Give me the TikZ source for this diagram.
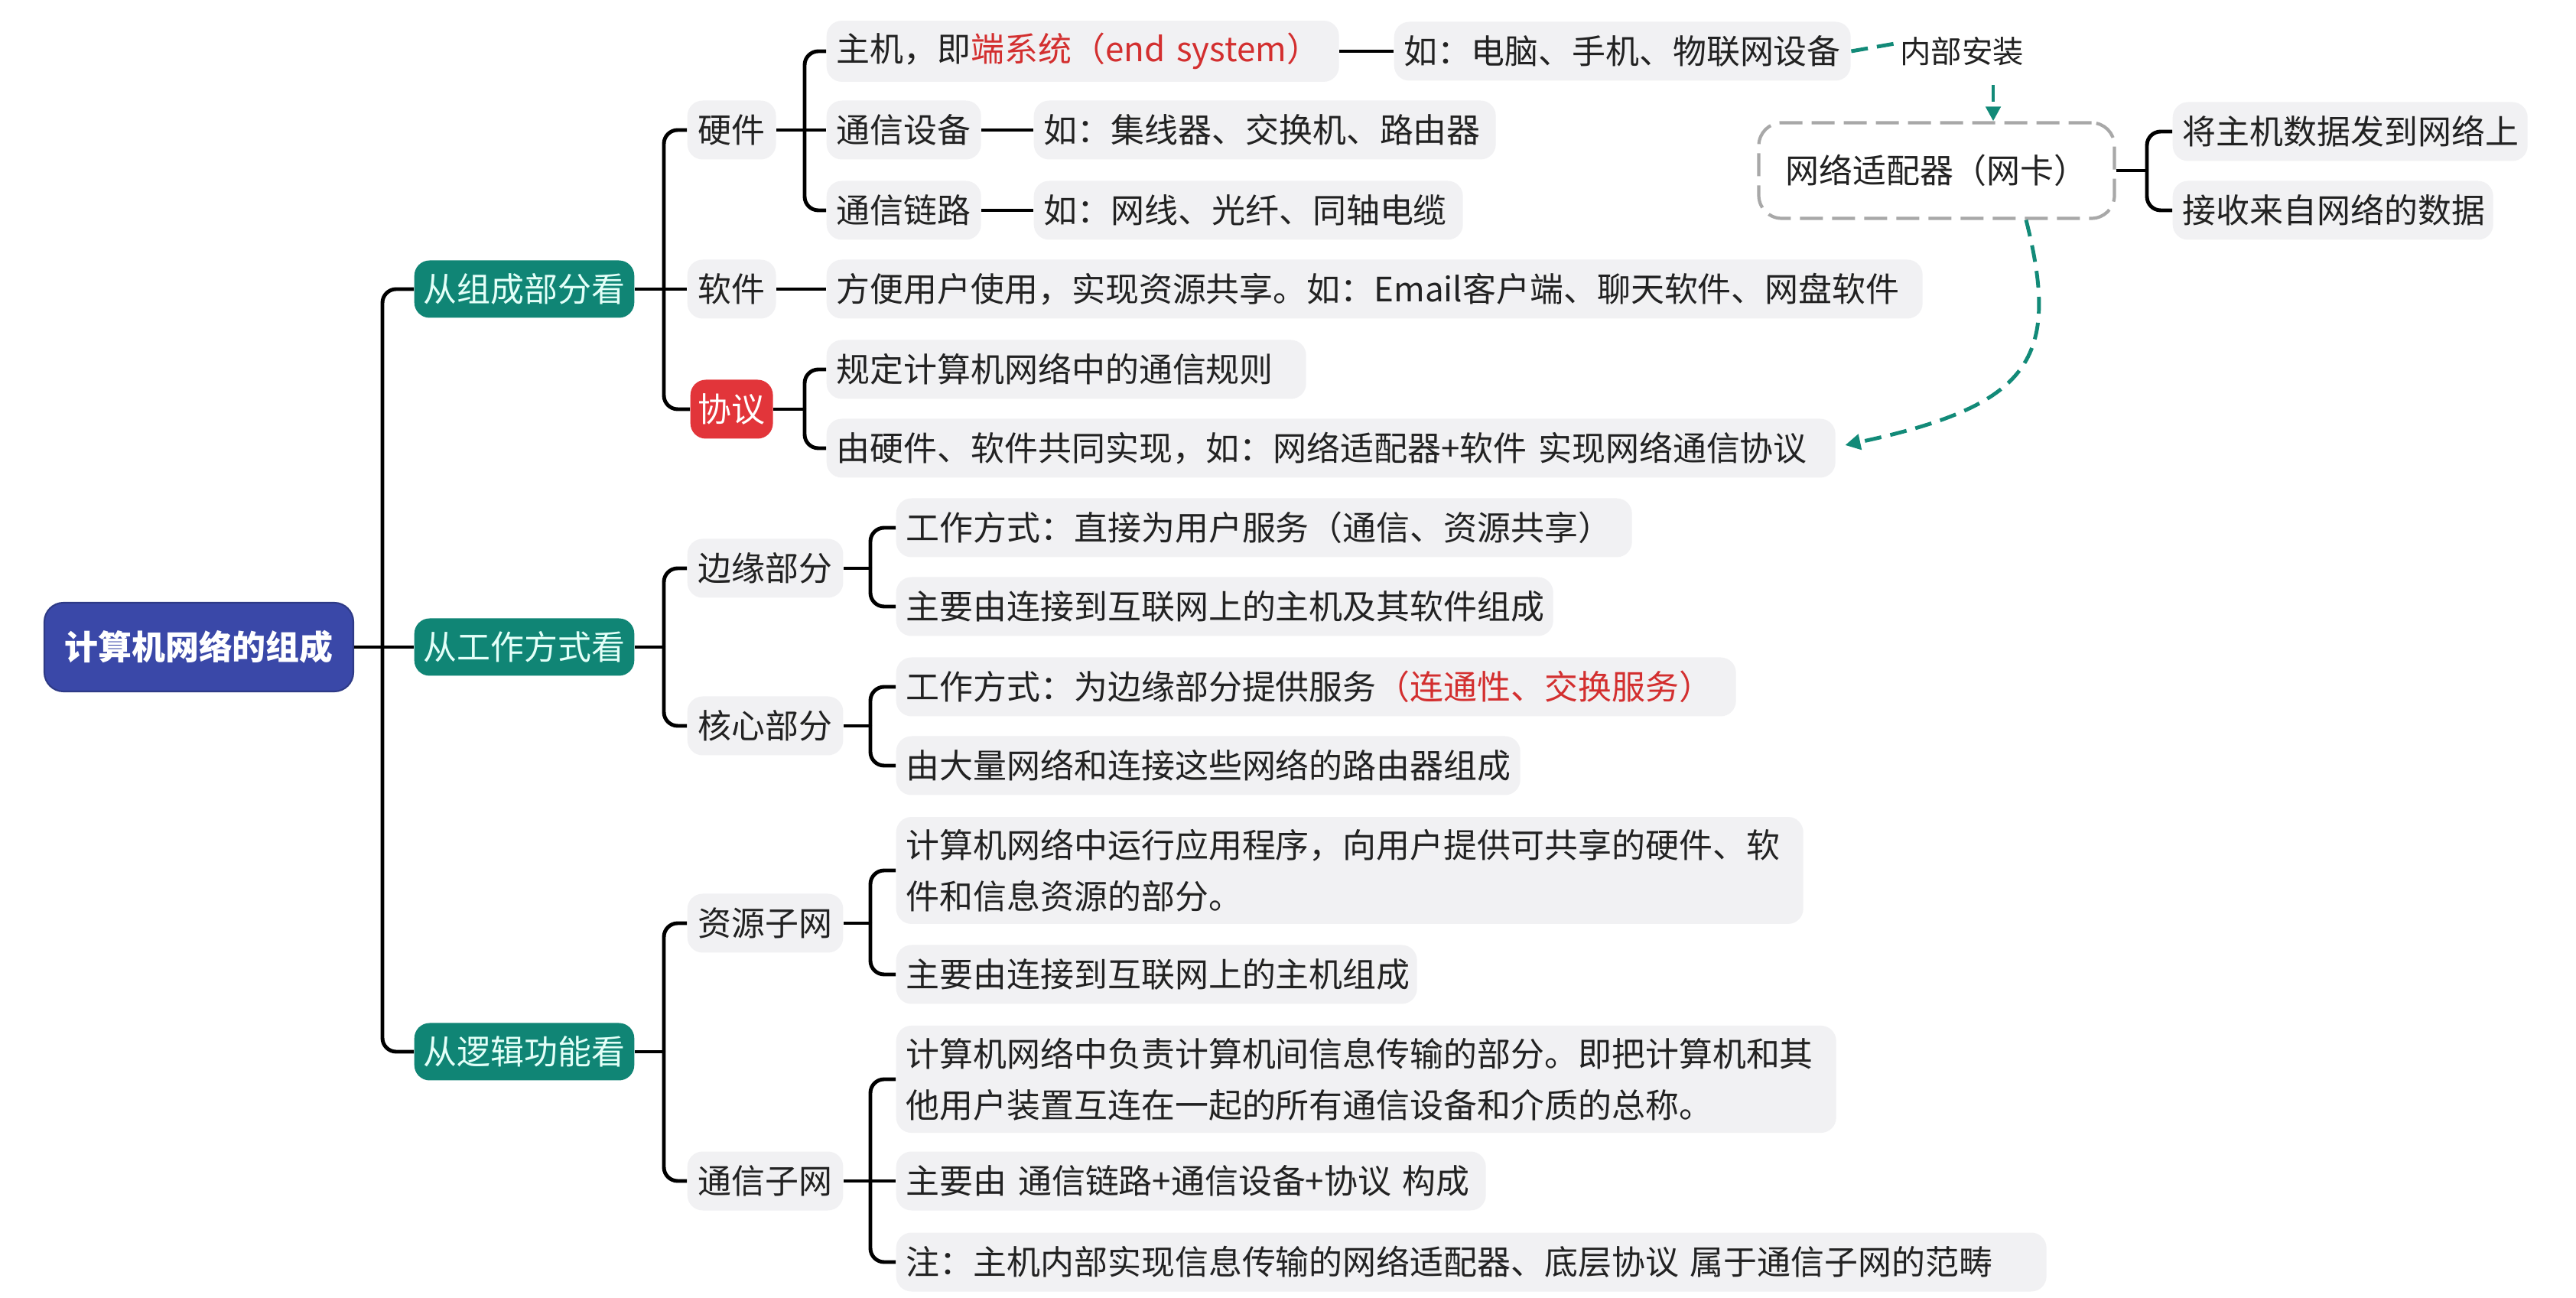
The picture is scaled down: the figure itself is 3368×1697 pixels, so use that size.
\documentclass[tikz,border=0pt]{standalone}
\usepackage{fontspec}
\setmainfont{Noto Sans CJK SC}
\usetikzlibrary{arrows.meta,calc}
\definecolor{rootblue}{HTML}{3A48A8}
\definecolor{lvgreen}{HTML}{108575}
\definecolor{greentxt}{HTML}{E3FFF8}
\definecolor{boxgray}{HTML}{F1F1F3}
\definecolor{txtc}{HTML}{222222}
\definecolor{hlred}{HTML}{D32F2F}
\definecolor{protored}{HTML}{E2353A}
\definecolor{dgreen}{HTML}{128A78}
\definecolor{dashgray}{HTML}{A8A8A8}
\begin{document}
\begin{tikzpicture}[x=0.1mm,y=-0.1mm,
  every node/.style={font=\fontsize{12.5}{19}\selectfont, text=txtc},
  rootbox/.style={fill=rootblue, draw=rootblue!80!black, line width=0.6pt, rounded corners=2.5mm, text=white, font=\fontsize{12.5}{19}\selectfont\bfseries, minimum width=40.4mm, minimum height=11.6mm, inner sep=0pt},
  lonebox/.style={fill=lvgreen, rounded corners=2mm, text=greentxt, minimum height=7.5mm, inner xsep=1.2mm, inner ysep=0pt, anchor=west},
  ltwobox/.style={fill=boxgray, rounded corners=2mm, minimum height=7.7mm, inner xsep=1.4mm, inner ysep=0pt, anchor=west},
  protobox/.style={fill=protored, rounded corners=2mm, text=white, minimum height=7.7mm, inner xsep=1mm, inner ysep=0pt, anchor=west},
  leafbox/.style={fill=boxgray, rounded corners=2mm, minimum height=7.7mm, inner xsep=1.3mm, inner ysep=1.6mm, anchor=west, align=left, text width=#1},
  adbox/.style={fill=white, draw=dashgray, line width=1.2pt, dash pattern=on 3mm off 1.2mm, rounded corners=3mm, minimum width=46.5mm, minimum height=12.5mm},
  conn/.style={line width=1.4pt, black},
  branch/.style={conn, rounded corners=1.8mm},
  gdash/.style={dgreen, line width=1.4pt, dash pattern=on 2.2mm off 1.2mm},
]
\fill[white] (0,0) rectangle (3368,1697);
\useasboundingbox (0,0) rectangle (3368,1697);

% root and level 1
\node[rootbox] (root) at (260,846) {计算机网络的组成};
\node[lonebox] (la) at (541,378) {从组成部分看};
\node[lonebox] (lb) at (541,846) {从工作方式看};
\node[lonebox] (lc) at (541,1375) {从逻辑功能看};

% level 2
\node[ltwobox] (hw) at (898,170) {硬件};
\node[ltwobox] (sw) at (898,378) {软件};
\node[protobox] (xy) at (902,535) {协议};
\node[ltwobox] (by) at (898,743) {边缘部分};
\node[ltwobox] (hx) at (898,949) {核心部分};
\node[ltwobox] (zy) at (898,1207) {资源子网};
\node[ltwobox] (tx) at (898,1544) {通信子网};

% level 3
\node[leafbox=64.4mm] (zj) at (1080,67) {主机，即{\color{hlred}端系统（end~system）}};
\node[leafbox=17.6mm] (sb) at (1080,170) {通信设备};
\node[leafbox=17.6mm] (ll) at (1080,275) {通信链路};
\node[leafbox=140.7mm] (fb) at (1080,378) {方便用户使用，实现资源共享。如：Email客户端、聊天软件、网盘软件};
\node[leafbox=60.1mm] (gd) at (1080,483) {规定计算机网络中的通信规则};
\node[leafbox=129.3mm] (yy) at (1080,586) {由硬件、软件共同实现，如：网络适配器+软件~实现网络通信协议};
\node[leafbox=93.6mm] (bya) at (1171,690) {工作方式：直接为用户服务（通信、资源共享）};
\node[leafbox=83.3mm] (byb) at (1171,793) {主要由连接到互联网上的主机及其软件组成};
\node[leafbox=107.2mm] (hxa) at (1171,898) {工作方式：为边缘部分提供服务{\color{hlred}（连通性、交换服务）}};
\node[leafbox=79.0mm] (hxb) at (1171,1001) {由大量网络和连接这些网络的路由器组成};
\node[leafbox=116.0mm] (zya) at (1171,1138) {计算机网络中运行应用程序，向用户提供可共享的硬件、软\\件和信息资源的部分。};
\node[leafbox=65.5mm] (zyb) at (1171,1274) {主要由连接到互联网上的主机组成};
\node[leafbox=120.3mm] (txa) at (1171,1411) {计算机网络中负责计算机间信息传输的部分。即把计算机和其\\他用户装置互连在一起的所有通信设备和介质的总称。};
\node[leafbox=74.5mm] (txb) at (1171,1544) {主要由~通信链路+通信设备+协议~构成};
\node[leafbox=147.8mm] (txc) at (1171,1650) {注：主机内部实现信息传输的网络适配器、底层协议~属于通信子网的范畴};

% level 4
\node[leafbox=57.1mm] (zjd) at (1822,67) {如：电脑、手机、物联网设备};
\node[leafbox=57.8mm] (sbd) at (1351,170) {如：集线器、交换机、路由器};
\node[leafbox=53.5mm] (lld) at (1351,275) {如：网线、光纤、同轴电缆};

% adapter
\node[font=\fontsize{11.5}{14}\selectfont, inner sep=0pt] (nb) at (2565,67) {内部安装};
\node[adbox] (ad) at (2532,223) {网络适配器（网卡）};
\node[leafbox=43.8mm] (ada) at (2840,172) {将主机数据发到网络上};
\node[leafbox=39.3mm] (adb) at (2840,275) {接收来自网络的数据};

% junctions
\coordinate (j0) at (500,846);
\coordinate (ja) at (868,378);
\coordinate (jb) at (868,846);
\coordinate (jc) at (868,1375);
\coordinate (jhw) at (1052,170);
\coordinate (jxy) at (1052,535);
\coordinate (jby) at (1138,743);
\coordinate (jhx) at (1138,949);
\coordinate (jzy) at (1138,1207);
\coordinate (jtx) at (1138,1544);
\coordinate (jad) at (2807,223);

% connectors
\draw[conn] (root.east) -- (lb.west);
\draw[branch] (j0) |- (la.west);
\draw[branch] (j0) |- (lc.west);

\draw[conn] (la.east) -- (sw.west);
\draw[branch] (ja) |- (hw.west);
\draw[branch] (ja) |- (xy.west);

\draw[conn] (lb.east) -- (jb);
\draw[branch] (jb) |- (by.west);
\draw[branch] (jb) |- (hx.west);

\draw[conn] (lc.east) -- (jc);
\draw[branch] (jc) |- (zy.west);
\draw[branch] (jc) |- (tx.west);

\draw[conn] (hw.east) -- (sb.west);
\draw[branch] (jhw) |- (zj.west);
\draw[branch] (jhw) |- (ll.west);

\draw[conn] (sw.east) -- (fb.west);

\draw[conn] (xy.east) -- (jxy);
\draw[branch] (jxy) |- (gd.west);
\draw[branch] (jxy) |- (yy.west);

\draw[conn] (by.east) -- (jby);
\draw[branch] (jby) |- (bya.west);
\draw[branch] (jby) |- (byb.west);

\draw[conn] (hx.east) -- (jhx);
\draw[branch] (jhx) |- (hxa.west);
\draw[branch] (jhx) |- (hxb.west);

\draw[conn] (zy.east) -- (jzy);
\draw[branch] (jzy) |- (zya.west);
\draw[branch] (jzy) |- (zyb.west);

\draw[conn] (tx.east) -- (txb.west);
\draw[branch] (jtx) |- (txa.west);
\draw[branch] (jtx) |- (txc.west);

\draw[conn] (zj.east) -- (zjd.west);
\draw[conn] (sb.east) -- (sbd.west);
\draw[conn] (ll.east) -- (lld.west);

\draw[conn] (ad.east) -- (jad);
\draw[branch] (jad) |- (ada.west);
\draw[branch] (jad) |- (adb.west);

% green dashed links
\draw[gdash] (zjd.east) -- ($(nb.west)+(-6,-10)$);
\draw[gdash,-{Triangle[length=1.9mm,width=1.9mm]}] ($(nb.south)+(41,25)$) -- ($(ad.north)+(74,0)$);
\draw[gdash,-{Triangle[length=2mm,width=2mm]}] ($(ad.south)+(117,0)$) .. controls (2695,470) and (2655,530) .. ($(yy.east)+(12,-4)$);
\end{tikzpicture}
\end{document}
